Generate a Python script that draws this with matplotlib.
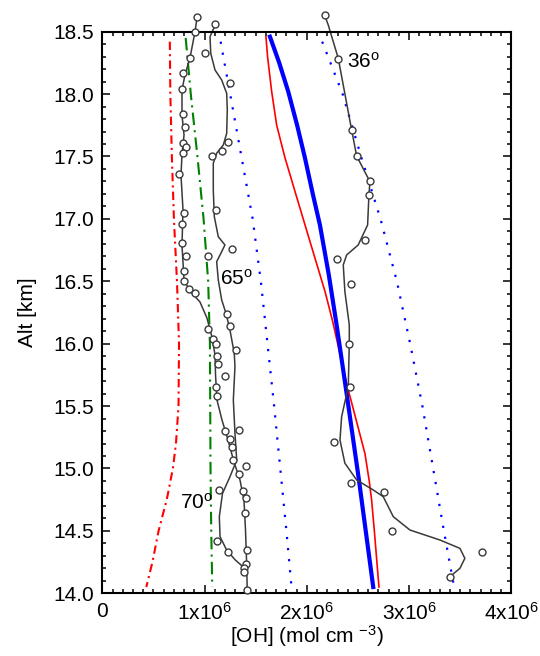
import numpy as np
import matplotlib.pyplot as plt
from matplotlib.ticker import FixedLocator, MultipleLocator

plt.rcParams['font.family'] = ['Liberation Sans', 'DejaVu Sans']
plt.rcParams['mathtext.default'] = 'regular'

# OH concentrations in units of 1e6 mol cm^-3, altitudes in km

# red dash-dot
alt_red_dd = [18.42, 18.0, 17.5, 17.0, 16.5, 16.0, 15.5, 15.2, 15.0, 14.75, 14.5, 14.25, 14.05]
oh_red_dd = [0.66, 0.665, 0.68, 0.70, 0.73, 0.75, 0.745, 0.72, 0.69, 0.63, 0.55, 0.49, 0.43]

# green dash-dot
alt_green_dd = [18.45, 18.0, 17.5, 17.0, 16.5, 16.0, 15.5, 15.0, 14.5, 14.05]
oh_green_dd = [0.815, 0.865, 0.93, 0.99, 1.035, 1.052, 1.055, 1.058, 1.065, 1.075]

# blue dotted, left and right
alt_blue_dot = [18.42, 18.0, 17.5, 17.0, 16.5, 16.0, 15.5, 15.0, 14.5, 14.05]
oh_blue_dot_l = [1.157, 1.25, 1.36, 1.47, 1.55, 1.615, 1.68, 1.74, 1.80, 1.85]
oh_blue_dot_r = [2.15, 2.35, 2.53, 2.72, 2.88, 3.01, 3.13, 3.235, 3.34, 3.44]

# thick blue solid
alt_blue_thick = [18.46, 18.25, 18.02, 17.75, 17.49, 17.2, 16.95, 16.55, 16.15, 15.6, 14.91, 14.05]
oh_blue_thick = [1.639, 1.73, 1.818, 1.905, 1.981, 2.058, 2.128, 2.215, 2.291, 2.389, 2.509, 2.649]

# thin red solid
alt_red_thin = [18.46, 18.29, 18.02, 17.75, 17.49, 17.22, 16.82, 16.42, 16.18, 15.68, 15.12,
                14.9, 14.75, 14.5, 14.05]
oh_red_thin = [1.600, 1.617, 1.656, 1.705, 1.786, 1.884, 2.030, 2.177, 2.252, 2.389, 2.568,
               2.61, 2.633, 2.66, 2.705]

# measured profiles (open circles) and their smoothed curves
alt_70_pts = [18.62, 18.50, 18.29, 18.17, 18.04, 17.84, 17.74, 17.61, 17.58, 17.53, 17.36,
              17.05, 16.96, 16.81, 16.70, 16.58, 16.50, 16.44, 16.41, 16.12, 16.04, 16.00,
              15.90, 15.84, 15.65, 15.58, 15.30, 15.24, 15.17, 15.07, 14.956, 14.822,
              14.761, 14.641, 14.347, 14.236, 14.20, 14.173, 14.028]
oh_70_pts = [0.93, 0.906, 0.857, 0.792, 0.782, 0.786, 0.808, 0.792, 0.818, 0.786, 0.753,
             0.799, 0.779, 0.782, 0.815, 0.802, 0.799, 0.845, 0.909, 1.036, 1.085, 1.108,
             1.124, 1.128, 1.108, 1.121, 1.199, 1.248, 1.265, 1.281, 1.336, 1.378,
             1.405, 1.392, 1.412, 1.405, 1.385, 1.385, 1.417]
alt_70_fit = [18.618, 18.498, 18.289, 18.153, 18.033, 17.832, 17.672, 17.512, 17.351, 17.071,
              16.790, 16.510, 16.422, 16.334, 16.206, 16.054, 15.910, 15.749, 15.549, 15.389,
              15.229, 15.053, 14.908, 14.748, 14.508, 14.267, 14.027]
oh_70_fit = [0.927, 0.906, 0.857, 0.808, 0.779, 0.779, 0.799, 0.779, 0.769, 0.789,
             0.779, 0.799, 0.857, 0.955, 1.023, 1.072, 1.102, 1.107, 1.121, 1.170,
             1.229, 1.287, 1.346, 1.385, 1.400, 1.410, 1.417]

alt_65_pts = [18.56, 18.33, 18.09, 17.62, 17.54, 17.50, 17.07, 16.76, 16.70, 16.24, 16.14,
              15.95, 15.74, 15.31, 15.02, 14.83, 14.42, 14.33]
oh_65_pts = [1.105, 1.004, 1.248, 1.232, 1.167, 1.07, 1.112, 1.265, 1.036, 1.216, 1.248,
             1.307, 1.199, 1.336, 1.405, 1.144, 1.118, 1.232]
alt_65_fit = [18.556, 18.46, 18.327, 18.193, 18.113, 18.006, 17.873, 17.686, 17.592, 17.526,
              17.446, 17.232, 17.018, 16.857, 16.791, 16.737, 16.657, 16.510, 16.350, 16.244,
              16.110, 15.923, 15.816, 15.549, 15.282, 15.068, 14.934, 14.80, 14.614, 14.454,
              14.347, 14.267, 14.213, 14.17]
oh_65_fit = [1.105, 1.053, 1.060, 1.102, 1.167, 1.216, 1.222, 1.216, 1.183, 1.118,
             1.085, 1.085, 1.095, 1.134, 1.199, 1.167, 1.118, 1.134, 1.167, 1.209,
             1.248, 1.290, 1.297, 1.281, 1.297, 1.314, 1.248, 1.175, 1.144, 1.151,
             1.215, 1.30, 1.375, 1.40]

alt_36_pts = [18.63, 18.28, 17.71, 17.50, 17.30, 17.19, 16.83, 16.68, 16.48, 16.00, 15.65,
              15.21, 14.88, 14.81, 14.50, 14.33, 14.13]
oh_36_pts = [2.177, 2.307, 2.438, 2.487, 2.617, 2.607, 2.568, 2.297, 2.431, 2.412, 2.421,
             2.268, 2.434, 2.757, 2.835, 3.708, 3.396]
alt_36_fit = [18.626, 18.554, 18.287, 17.712, 17.504, 17.298, 17.191, 16.951, 16.791, 16.711,
              16.631, 16.417, 16.150, 16.003, 15.655, 15.415, 15.228, 15.042, 14.908, 14.828,
              14.774, 14.614, 14.507, 14.427, 14.360, 14.28, 14.20, 14.131]
oh_36_fit = [2.177, 2.209, 2.307, 2.438, 2.487, 2.617, 2.607, 2.594, 2.502, 2.389,
             2.356, 2.372, 2.415, 2.415, 2.405, 2.340, 2.324, 2.372, 2.487, 2.649,
             2.747, 2.845, 3.008, 3.301, 3.497, 3.545, 3.497, 3.396]

x_ticks = [0, 1, 2, 3, 4]
x_tick_labels = ['0', '1x10$^{6}$', '2x10$^{6}$', '3x10$^{6}$', '4x10$^{6}$']
y_ticks = [14.0, 14.5, 15.0, 15.5, 16.0, 16.5, 17.0, 17.5, 18.0, 18.5]

E6 = 1e6
gray = '#3a3a3a'

fig = plt.figure(figsize=(5.4, 6.56), dpi=100)
ax = fig.add_axes([0.1895, 0.0956, 0.7575, 0.8561])

ax.plot(np.array(oh_red_dd) * E6, alt_red_dd, color='red', lw=1.5,
        dashes=(4, 2, 1, 2))
ax.plot(np.array(oh_green_dd) * E6, alt_green_dd, color='#008000', lw=1.5,
        dashes=(6, 2.5, 1, 2.5))
ax.plot(np.array(oh_blue_dot_l) * E6, alt_blue_dot, color='blue', lw=1.6,
        linestyle=(0, (1, 4)))
ax.plot(np.array(oh_blue_dot_r) * E6, alt_blue_dot, color='blue', lw=1.6,
        linestyle=(0, (1, 4)))
ax.plot(np.array(oh_red_thin) * E6, alt_red_thin, color='red', lw=1.2)
ax.plot(np.array(oh_blue_thick) * E6, alt_blue_thick, color='blue', lw=3.0)

for oh_fit, alt_fit, oh_pts, alt_pts in [(oh_70_fit, alt_70_fit, oh_70_pts, alt_70_pts),
                                         (oh_65_fit, alt_65_fit, oh_65_pts, alt_65_pts),
                                         (oh_36_fit, alt_36_fit, oh_36_pts, alt_36_pts)]:
    ax.plot(np.array(oh_fit) * E6, alt_fit, color=gray, lw=1.1, clip_on=False)
    ax.plot(np.array(oh_pts) * E6, alt_pts, 'o', ms=5, mfc='white', mec=gray,
            mew=1.0, clip_on=False, zorder=4)

# zenith angle labels
ax.text(1.15e6, 16.47, '65$^{o}$', fontsize=15)
ax.text(0.76e6, 14.68, '70$^{o}$', fontsize=15)
ax.text(2.39e6, 18.21, '36$^{o}$', fontsize=15)

ax.set_xlim(0, 4e6)
ax.set_ylim(14.0, 18.5)
ax.xaxis.set_major_locator(FixedLocator([t * E6 for t in x_ticks]))
ax.set_xticklabels(x_tick_labels)
ax.xaxis.set_minor_locator(MultipleLocator(1e5))
ax.yaxis.set_major_locator(FixedLocator(y_ticks))
ax.set_yticklabels([f'{v:.1f}' for v in y_ticks])
ax.yaxis.set_minor_locator(MultipleLocator(0.1))

ax.tick_params(which='both', direction='in', top=True, right=True, labelsize=15,
               width=1.1, color='black')
ax.tick_params(which='major', length=6, pad=6)
ax.tick_params(which='minor', length=3)
for sp in ax.spines.values():
    sp.set_linewidth(1.5)

ax.set_ylabel('Alt [km]', fontsize=15)
ax.yaxis.set_label_coords(-0.159, 0.5)
ax.set_xlabel('[OH] (mol cm $^{-3}$)', fontsize=15, va='center')
ax.xaxis.set_label_coords(0.5, -0.076)

fig.savefig('out.png', dpi=100)
